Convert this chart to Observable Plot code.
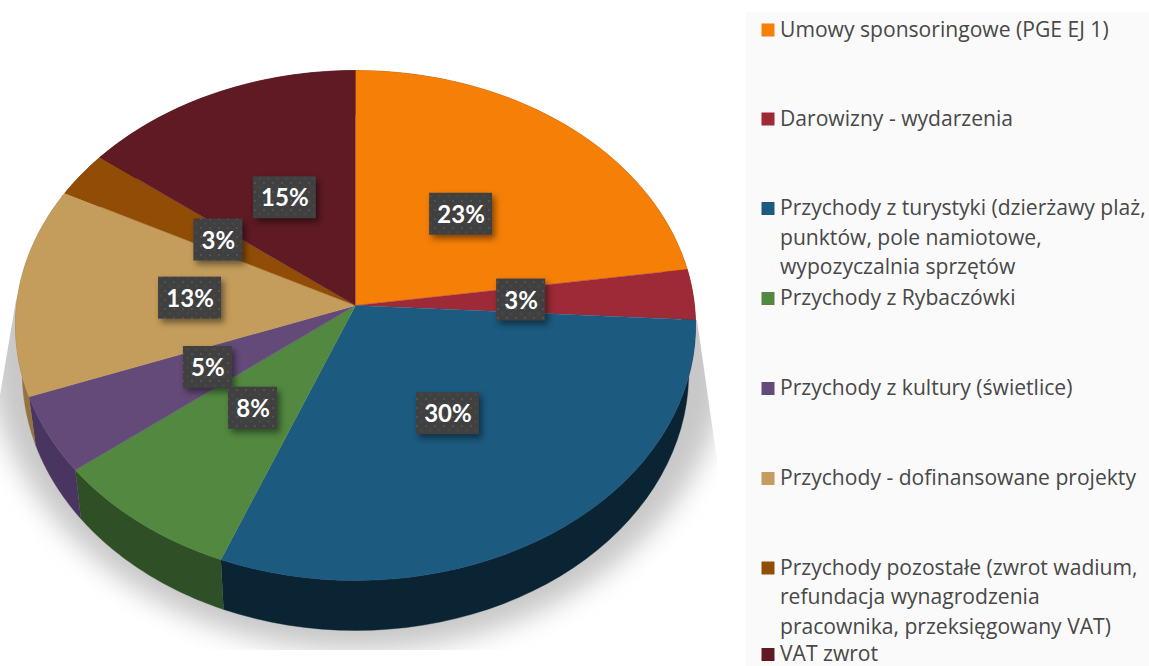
<!DOCTYPE html>
<html lang="pl">
<head>
<meta charset="utf-8">
<title>Przychody</title>
<script src="https://cdn.jsdelivr.net/npm/d3@7"></script>
<script src="https://cdn.jsdelivr.net/npm/@observablehq/plot@0.6"></script>
<style>
html,body{margin:0;padding:0;background:#fff}
svg{display:block}
</style>
</head>
<body>
<div id="chart"></div>
<script>
// ---- data ----
const categories = ["Umowy sponsoringowe (PGE EJ 1)","Darowizny - wydarzenia","Przychody z turystyki","Przychody z Rybaczówki","Przychody z kultury (świetlice)","Przychody - dofinansowane projekty","Przychody pozostałe","VAT zwrot"];
const shares = [22.7,3.2,30.1,8.4,4.9,13.3,2.9,14.5];
const shareLabels = ["23%","3%","30%","8%","5%","13%","3%","15%"];
const legendLines = [
  ["Umowy sponsoringowe (PGE EJ 1)"],
  ["Darowizny - wydarzenia"],
  ["Przychody z turystyki (dzierżawy plaż,","punktów, pole namiotowe,","wypozyczalnia sprzętów"],
  ["Przychody z Rybaczówki"],
  ["Przychody z kultury (świetlice)"],
  ["Przychody - dofinansowane projekty"],
  ["Przychody pozostałe (zwrot wadium,","refundacja wynagrodzenia","pracownika, przeksięgowany VAT)"],
  ["VAT zwrot"]
];
// ---- styling ----
const topColors = ["#f57f07","#9e2a38","#1c5a7f","#528840","#644a78","#c49d5c","#914d05","#601a24"];
const wallColors = ["#8a4704","#5a1820","#0b2434","#2f5026","#4a3560","#94743e","#5e3203","#3d1017"];
const legendCenters = [29.5,118.5,208,298,388,478,567.5,654];
const legendLineGap = 29.5;

// ---- geometry of the tilted disc ----
const pie = {cx:355, cy:305, rx:339, ry:253.4, k:0.0784, wallScaleX:0.98, wallScaleY:1.011, wallShift:47};
function project(turn, f = 1, wall = false) {
  const a = turn * 2 * Math.PI;
  const X = Math.sin(a) * f, Y = -Math.cos(a) * f;
  const d = 1 - pie.k * Y;
  const px = pie.rx * X / d, py = pie.ry * Y / d;
  return wall
    ? {x: pie.cx + px * pie.wallScaleX, y: pie.cy + pie.wallShift + py * pie.wallScaleY}
    : {x: pie.cx + px, y: pie.cy + py};
}
const arcSteps = (t0, t1) => d3.range(0, 41).map(i => t0 + (t1 - t0) * i / 40);
const total = d3.sum(shares);
let acc = 0;
const slices = categories.map((name, i) => {
  const t0 = acc / total; acc += shares[i]; const t1 = acc / total;
  return {name, i, t0, t1, mid: (t0 + t1) / 2};
});
const topFace = s => [project(0, 0), ...arcSteps(s.t0, s.t1).map(t => project(t))];
const wallFace = s => [...arcSteps(s.t0, s.t1).map(t => project(t)), ...arcSteps(s.t1, s.t0).map(t => project(t, 1, true))];

const labelRows = slices.map(s => {
  const c = project(s.mid, 0.49);
  return {...c, label: shareLabels[s.i], w: shareLabels[s.i].length > 2 ? 63 : 49};
});
const legendRows = legendLines.flatMap((lines, i) => lines.map((text, j) => ({text, i, y: legendCenters[i] + j * legendLineGap})));
const legendKeys = legendCenters.map((y, i) => ({y, i}));

// ---- decorative shadow outline ----
const shadowEllipse = d3.range(0, 121).map(i => {
  const a = i / 120 * 2 * Math.PI;
  return {x: 358 + 372 * Math.cos(a), y: 338 + 312 * Math.sin(a)};
});
const shadowClip = [[62,195],[16,300],[0,395],[0,650],[717,650],[717,460],[697,320],[355,320]];

const withFilter = (css, clip) => function (index, scales, values, dims, ctx, next) {
  const g = next(index, scales, values, dims, ctx);
  g.style.filter = css;
  if (!clip) return g;
  const wrap = document.createElementNS("http://www.w3.org/2000/svg", "g");
  wrap.setAttribute("clip-path", clip);
  wrap.appendChild(g);
  return wrap;
};

const chart = Plot.plot({
  width: 1149, height: 666,
  marginTop: 0, marginRight: 0, marginBottom: 0, marginLeft: 0,
  x: {domain: [0, 1149], range: [0, 1149], axis: null},
  y: {domain: [0, 666], range: [0, 666], axis: null},
  color: {domain: categories, range: topColors},
  style: {background: "#fff"},
  marks: [
    // legend panel
    Plot.rect([{x1: 746, x2: 1149, y1: 12, y2: 666}], {x1: "x1", x2: "x2", y1: "y1", y2: "y2", fill: "#fafafa"}),
    // shadow
    Plot.line(shadowEllipse, {x: "x", y: "y", fill: "#c8c8c8", stroke: "none", render: withFilter("blur(13px)", "url(#shadowClip)")}),
    // walls
    ...slices.map(s => Plot.line(wallFace(s), {x: "x", y: "y", fill: wallColors[s.i], stroke: wallColors[s.i], strokeWidth: 0.4})),
    // top face
    ...slices.map(s => Plot.line(topFace(s), {x: "x", y: "y", fill: topColors[s.i], stroke: topColors[s.i], strokeWidth: 0.4})),
    // data labels
    Plot.rect(labelRows, {
      x1: d => d.x - d.w / 2, x2: d => d.x + d.w / 2, y1: d => d.y - 21, y2: d => d.y + 21,
      fill: "url(#dots)", render: withFilter("drop-shadow(3px 4px 3px rgba(0,0,0,.45))")
    }),
    Plot.text(labelRows, {x: "x", y: "y", text: "label", fill: "#fff", fontFamily: "Lato", fontWeight: 700, fontSize: 24, dy: 1}),
    // legend
    Plot.dot(legendKeys, {x: () => 767.5, y: "y", symbol: "square", r: 7.33, fill: d => categories[d.i], stroke: "none"}),
    Plot.text(legendRows, {x: () => 779.5, y: "y", text: "text", textAnchor: "start", fill: "#484848", fontFamily: "Open Sans", fontSize: 21.1})
  ]
});
chart.insertAdjacentHTML("afterbegin",
  `<defs>
    <pattern id="dots" width="9" height="9" patternUnits="userSpaceOnUse">
      <rect width="9" height="9" fill="#404040"/>
      <rect x="2" y="2" width="2" height="2" fill="#515151"/>
      <rect x="6.5" y="6.5" width="2" height="2" fill="#4a4a4a"/>
    </pattern>
    <clipPath id="shadowClip"><polygon points="${shadowClip.map(p => p.join(",")).join(" ")}"/></clipPath>
  </defs>`);
document.getElementById("chart").appendChild(chart);
</script>
</body>
</html>
